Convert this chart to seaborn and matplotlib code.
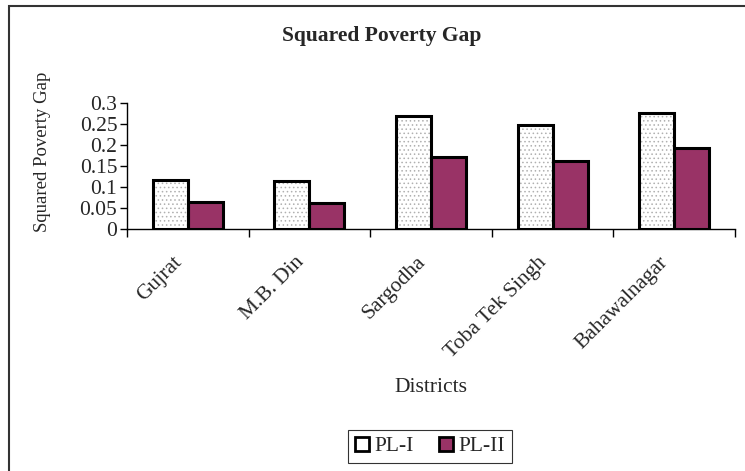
import seaborn as sns
import matplotlib.pyplot as plt
import pandas as pd
from matplotlib.patches import Rectangle, Patch

districts = ["Gujrat", "M.B. Din", "Sargodha", "Toba Tek Singh", "Bahawalnagar"]
pl_1 = [0.117, 0.114, 0.270, 0.248, 0.277]
pl_2 = [0.065, 0.063, 0.172, 0.163, 0.194]
series = ["PL-I", "PL-II"]
y_ticks = [0, 0.05, 0.1, 0.15, 0.2, 0.25, 0.3]
y_labels = ["0", "0.05", "0.1", "0.15", "0.2", "0.25", "0.3"]

df = pd.DataFrame({
    "district": districts * 2,
    "value": pl_1 + pl_2,
    "line": [series[0]] * len(districts) + [series[1]] * len(districts),
})

sns.set_theme(style="white")
plt.rcParams["font.family"] = ["Liberation Serif", "DejaVu Serif"]
plt.rcParams["hatch.linewidth"] = 0.6

fig = plt.figure(figsize=(7.45, 4.71), dpi=100)
ax = fig.add_axes([127 / 745, 1 - 229 / 471, (735 - 127) / 745, (229 - 103) / 471])

palette = {"PL-I": "white", "PL-II": "#993366"}

# filled bars (hatch drawn in grey, no outline)
sns.barplot(data=df, x="district", y="value", hue="line", order=districts,
            hue_order=series, palette=palette, width=0.575, gap=0,
            saturation=1, linewidth=0, legend=False, ax=ax)
n = len(districts)
for p in ax.patches[:n]:
    p.set_hatch("....")
    p.set_edgecolor("#b0b0b0")

# black outlines on top
sns.barplot(data=df, x="district", y="value", hue="line", order=districts,
            hue_order=series, palette=palette, width=0.575, gap=0,
            saturation=1, fill=False, linewidth=2.2, edgecolor="black",
            legend=False, ax=ax)
for p in ax.patches[2 * n:]:
    p.set_edgecolor("black")

ax.set_xlim(-0.5, len(districts) - 0.5)
ax.set_ylim(0, 0.3)
ax.set_yticks(y_ticks)
ax.set_yticklabels(y_labels, fontsize=15.5)
# labels sit a bit left of the group centre, like the Excel original
ax.set_xticks([i - 0.125 for i in range(len(districts))])
ax.set_xticklabels(districts, fontsize=15.5, rotation=45, ha="right",
                   va="top", rotation_mode="anchor")
ax.set_xticks([i - 0.5 for i in range(len(districts) + 1)], minor=True)
ax.tick_params(axis="x", which="major", length=0, pad=17)
ax.tick_params(axis="x", which="minor", length=6, width=1, color="black",
               direction="out", bottom=True)
ax.tick_params(axis="y", length=5, width=1, color="black", direction="out",
               left=True, pad=2)
ax.set_xlabel("")
ax.set_ylabel("")
sns.despine(ax=ax, top=True, right=True)
ax.spines["left"].set_color("black")
ax.spines["bottom"].set_color("black")
ax.spines["left"].set_linewidth(1)
ax.spines["bottom"].set_linewidth(1)

fig.text(382 / 745, 1 - 36 / 471, "Squared Poverty Gap", ha="center",
         va="center", fontsize=15.5, fontweight="bold")
fig.text(431 / 745, 1 - 388 / 471, "Districts", ha="center", va="center",
         fontsize=15.5)
fig.text(43 / 745, 1 - 152 / 471, "Squared Poverty Gap", ha="center",
         va="center", rotation=90, fontsize=13.5)

handles = [
    Patch(facecolor="white", edgecolor="black", linewidth=2),
    Patch(facecolor="#993366", edgecolor="black", linewidth=2),
]
leg = fig.legend(handles, series, loc="center", ncol=2,
                 bbox_to_anchor=(430 / 745, 1 - 446.5 / 471), fontsize=15.5,
                 frameon=True, fancybox=False, edgecolor="black",
                 handlelength=0.65, handleheight=0.65, handletextpad=0.25,
                 columnspacing=1.2, borderpad=0.3, borderaxespad=0)
leg.get_frame().set_linewidth(0.8)

fig.patches.append(Rectangle((9 / 745, -0.1), 1.2, 1.1 - 6 / 471,
                             transform=fig.transFigure, fill=False,
                             edgecolor="#333333", linewidth=1.5))

fig.savefig("out.png", dpi=100)
